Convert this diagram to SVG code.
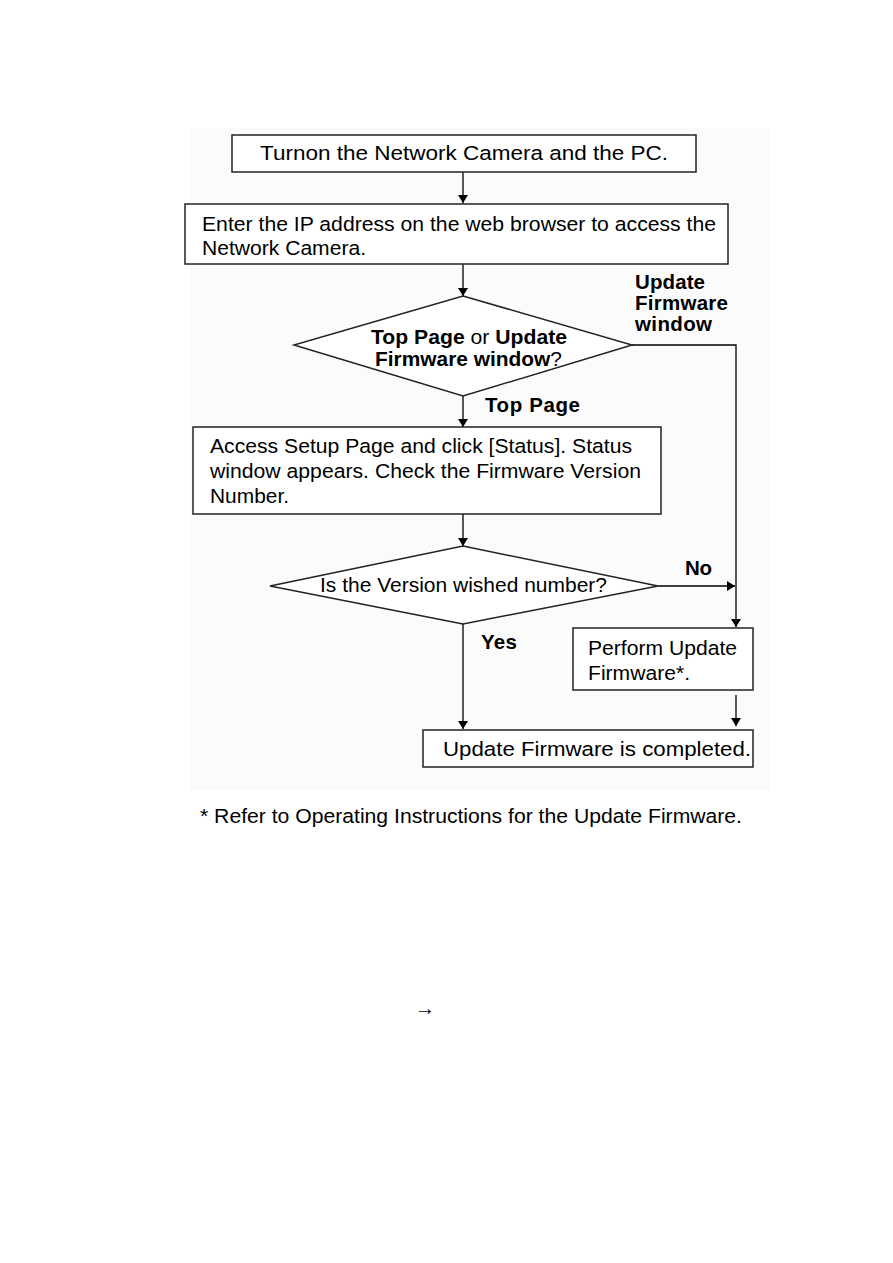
<svg xmlns="http://www.w3.org/2000/svg" width="893" height="1263" viewBox="0 0 893 1263">
<defs>
<marker id="ah" markerWidth="8" markerHeight="10" refX="8" refY="5" orient="auto" markerUnits="userSpaceOnUse">
<path d="M0,0 L8,5 L0,10 Z" fill="#000"/>
</marker>
<style>
.box{fill:#fff;stroke:#222;stroke-width:1.5}
.t{font-family:"Liberation Sans",Arial,sans-serif;font-size:20.5px;fill:#000}
.b{font-family:"Liberation Sans",Arial,sans-serif;font-size:20.5px;font-weight:bold;fill:#000}
.c{fill:none;stroke:#000;stroke-width:1.3}
</style>
</defs>
<rect width="893" height="1263" fill="#fff"/>
<rect x="190" y="128" width="580" height="662" fill="#fbfbfb"/>
<g id="connectors">
<line class="c" x1="463" y1="172" x2="463" y2="203" marker-end="url(#ah)"/>
<line class="c" x1="463" y1="264" x2="463" y2="296" marker-end="url(#ah)"/>
<polyline class="c" points="632,345 736,345 736,627" marker-end="url(#ah)"/>
<line class="c" x1="463" y1="396" x2="463" y2="427" marker-end="url(#ah)"/>
<line class="c" x1="463" y1="514" x2="463" y2="546" marker-end="url(#ah)"/>
<line class="c" x1="658" y1="586" x2="735" y2="586" marker-end="url(#ah)"/>
<line class="c" x1="463" y1="624" x2="463" y2="729" marker-end="url(#ah)"/>
<line class="c" x1="736" y1="695" x2="736" y2="726" marker-end="url(#ah)"/>
<text class="b" x="635" y="289" textLength="70">Update</text>
<text class="b" x="635" y="310" textLength="93">Firmware</text>
<text class="b" x="635" y="331" textLength="77">window</text>
<text class="b" x="485" y="412" textLength="95">Top Page</text>
<text class="b" x="685" y="575" textLength="27">No</text>
<text class="b" x="481" y="649" textLength="36">Yes</text>
</g>
<g id="n1">
<rect class="box" x="232" y="135" width="464" height="37"/>
<text class="t" x="260" y="160" textLength="408" lengthAdjust="spacingAndGlyphs">Turnon the Network Camera and the PC.</text>
</g>
<g id="n2">
<rect class="box" x="185" y="204" width="543" height="60"/>
<text class="t" x="202" y="231" textLength="514" lengthAdjust="spacingAndGlyphs">Enter the IP address on the web browser to access the</text>
<text class="t" x="202" y="255" textLength="164" lengthAdjust="spacingAndGlyphs">Network Camera.</text>
</g>
<g id="d1">
<polygon class="box" points="463,296 632,345 463,396 294,345"/>
<text class="t" x="371" y="344" textLength="196" lengthAdjust="spacingAndGlyphs"><tspan font-weight="bold">Top Page</tspan> or <tspan font-weight="bold">Update</tspan></text>
<text class="t" x="375" y="366" textLength="187" lengthAdjust="spacingAndGlyphs"><tspan font-weight="bold">Firmware window</tspan>?</text>
</g>
<g id="n3">
<rect class="box" x="193" y="427" width="468" height="87"/>
<text class="t" x="210" y="453" textLength="422" lengthAdjust="spacingAndGlyphs">Access Setup Page and click [Status]. Status</text>
<text class="t" x="210" y="478" textLength="431" lengthAdjust="spacingAndGlyphs">window appears. Check the Firmware Version</text>
<text class="t" x="210" y="503" textLength="79" lengthAdjust="spacingAndGlyphs">Number.</text>
</g>
<g id="d2">
<polygon class="box" points="463,546 658,586 463,624 270,586"/>
<text class="t" x="320" y="592" textLength="287" lengthAdjust="spacingAndGlyphs">Is the Version wished number?</text>
</g>
<g id="n4">
<rect class="box" x="573" y="628" width="180" height="62"/>
<text class="t" x="588" y="655" textLength="149" lengthAdjust="spacingAndGlyphs">Perform Update</text>
<text class="t" x="588" y="680" textLength="102" lengthAdjust="spacingAndGlyphs">Firmware*.</text>
</g>
<g id="n5">
<rect class="box" x="423" y="730" width="330" height="37"/>
<text class="t" x="443" y="756" textLength="308" lengthAdjust="spacingAndGlyphs">Update Firmware is completed.</text>
</g>
<text class="t" x="200" y="823" textLength="542" lengthAdjust="spacingAndGlyphs">* Refer to Operating Instructions for the Update Firmware.</text>
<text class="t" x="425" y="1015" text-anchor="middle">→</text>
</svg>
